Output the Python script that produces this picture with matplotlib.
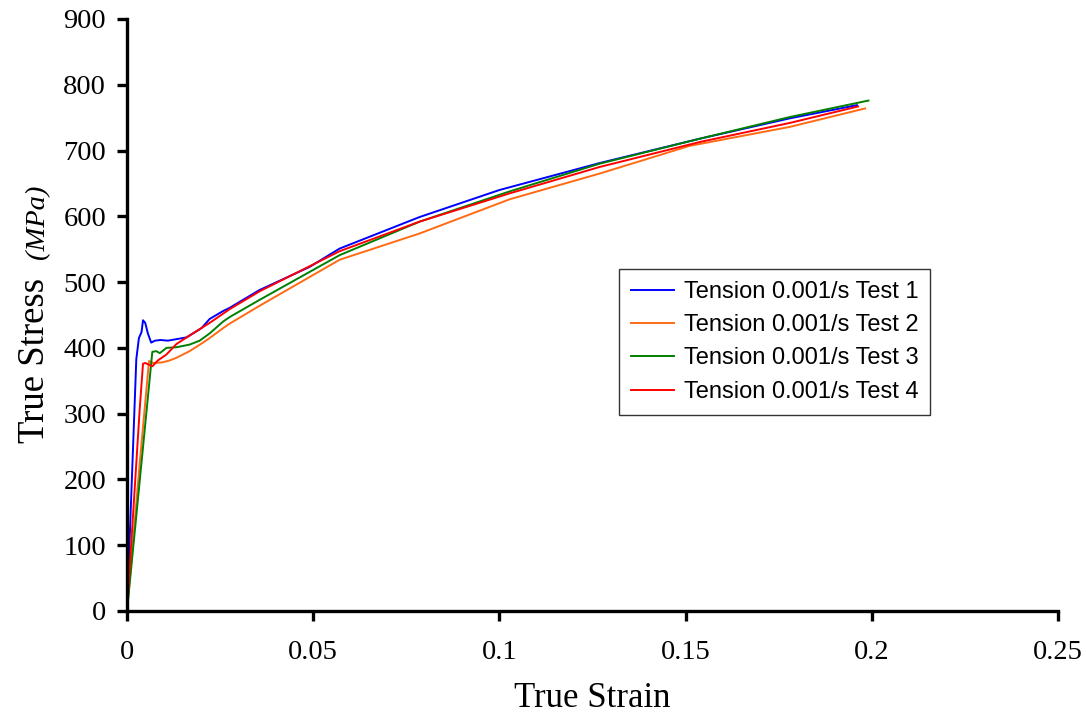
import matplotlib
matplotlib.use("Agg")
import matplotlib.pyplot as plt

# True strain / true stress (MPa) for four tension tests at 0.001/s
strain_1 = [0, 0.0025, 0.0032, 0.0039, 0.0043, 0.0049, 0.0056, 0.0065, 0.0075, 0.0090,
            0.0110, 0.0130, 0.0160, 0.0200, 0.0222, 0.0258, 0.0276, 0.0356, 0.0490,
            0.0571, 0.0786, 0.1000, 0.1269, 0.1538, 0.1780, 0.1960]
stress_1 = [0, 383, 415, 424, 442, 438, 422, 408, 411, 412,
            411, 413, 416, 430, 444, 456, 461, 488, 523,
            551, 599, 640, 681, 718, 749, 769]

strain_2 = [0, 0.0035, 0.0052, 0.0059, 0.0070, 0.0095, 0.0115, 0.0133, 0.0168, 0.0204,
            0.0222, 0.0258, 0.0276, 0.0356, 0.0571, 0.0786, 0.1028, 0.1269, 0.1510,
            0.1780, 0.1982]
stress_2 = [0, 230, 336, 380, 377, 378, 381, 385, 395, 408,
            415, 430, 437, 464, 534, 574, 626, 665, 707,
            736, 764]

strain_3 = [0, 0.0068, 0.0079, 0.0088, 0.0106, 0.0133, 0.0168, 0.0195, 0.0222, 0.0258,
            0.0276, 0.0356, 0.0571, 0.0786, 0.1028, 0.1269, 0.1538, 0.1780, 0.1991]
stress_3 = [0, 394, 395, 392, 400, 401, 405, 411, 422, 440,
            447, 473, 541, 592, 638, 680, 718, 751, 776]

strain_4 = [0, 0.0034, 0.0043, 0.0049, 0.0061, 0.0068, 0.0083, 0.0106, 0.0133, 0.0177,
            0.0222, 0.0276, 0.0356, 0.0571, 0.0786, 0.1028, 0.1269, 0.1538, 0.1780,
            0.1963]
stress_4 = [0, 306, 376, 377, 374, 372, 381, 390, 406, 422,
            438, 459, 486, 547, 592, 635, 675, 713, 742,
            767]

series = [
    (strain_1, stress_1, "Tension 0.001/s Test 1", "#0000ff"),
    (strain_2, stress_2, "Tension 0.001/s Test 2", "#ff6a13"),
    (strain_3, stress_3, "Tension 0.001/s Test 3", "#008000"),
    (strain_4, stress_4, "Tension 0.001/s Test 4", "#ff0000"),
]

x_ticks = [0, 0.05, 0.1, 0.15, 0.2, 0.25]
x_tick_labels = ["0", "0.05", "0.1", "0.15", "0.2", "0.25"]
y_ticks = [0, 100, 200, 300, 400, 500, 600, 700, 800, 900]

serif = "Liberation Serif"
sans = "Liberation Sans"

fig = plt.figure(figsize=(10.86, 7.17), dpi=100)
ax = fig.add_axes([127 / 1086, 1 - 611 / 717, (1058 - 127) / 1086, (611 - 19) / 717])

for x, y, label, color in series:
    ax.plot(x, y, color=color, lw=1.4, label=label)

ax.set_xlim(0, 0.25)
ax.set_ylim(0, 900)
ax.set_xticks(x_ticks)
ax.set_xticklabels(x_tick_labels)
ax.set_yticks(y_ticks)

for side in ("top", "right"):
    ax.spines[side].set_visible(False)
for side in ("left", "bottom"):
    ax.spines[side].set_linewidth(2.4)
    ax.spines[side].set_color("black")

ax.tick_params(axis="both", direction="out", length=7, width=2.4, color="black")
ax.tick_params(axis="x", pad=14)
ax.tick_params(axis="y", pad=8)
for lab in ax.get_xticklabels() + ax.get_yticklabels():
    lab.set_fontfamily(serif)
    lab.set_fontsize(20.5)

ax.set_xlabel("True Strain", fontfamily=serif, fontsize=25, labelpad=12)

# y-axis title: upright name followed by the italic unit
fig.text(44 / 1086, 1 - 443 / 717, "True Stress", rotation=90, rotation_mode="anchor",
         ha="left", va="baseline", fontfamily=serif, fontsize=26.5)
fig.text(44 / 1086, 1 - 259 / 717, "(MPa)", rotation=90, rotation_mode="anchor",
         ha="left", va="baseline", fontfamily=serif, fontstyle="italic", fontsize=20.5)

leg = ax.legend(loc="upper left", bbox_to_anchor=((619 - 127) / 931, (611 - 269) / 592),
                prop={"family": sans, "size": 17}, frameon=True, fancybox=False,
                edgecolor="black", handlelength=1.85, handletextpad=0.4,
                labelspacing=0.48, borderpad=0.5, borderaxespad=0)
leg.get_frame().set_linewidth(1.0)

fig.savefig("out.png", dpi=100)
